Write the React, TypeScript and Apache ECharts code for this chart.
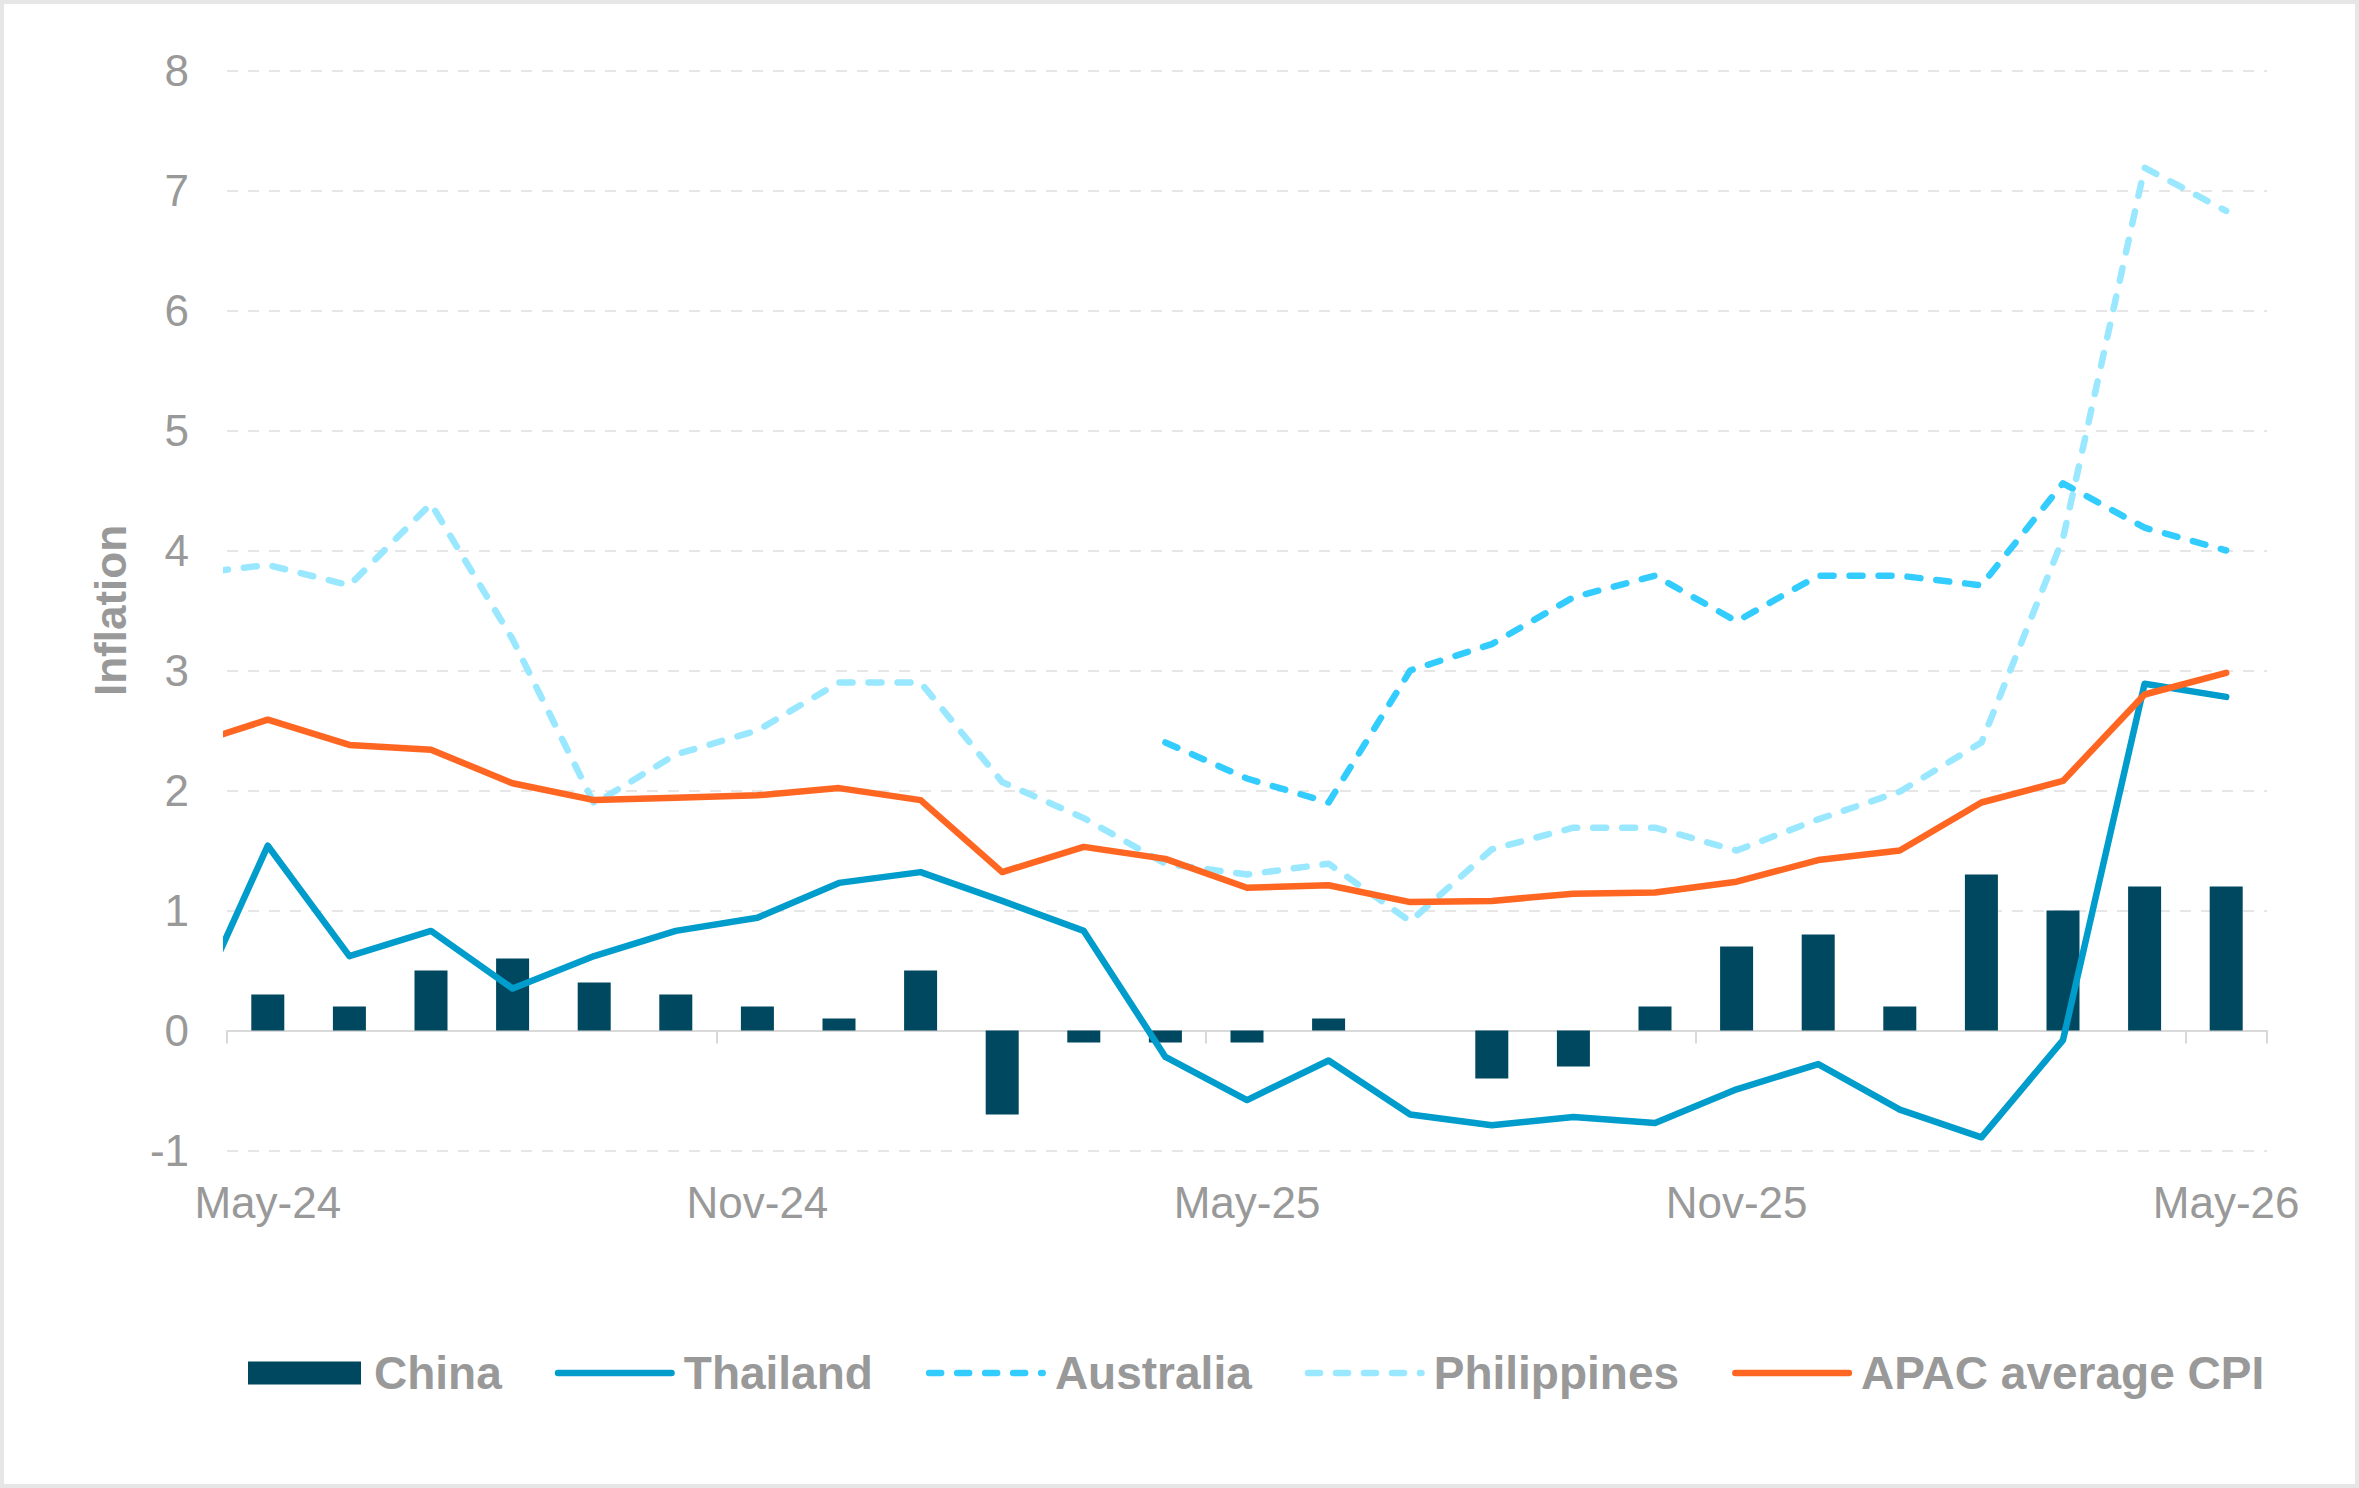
import React, { useEffect, useRef } from "react";
import * as echarts from "echarts";

// Monthly categories shown on the axis
const months = [
  "May-24", "Jun-24", "Jul-24", "Aug-24", "Sep-24", "Oct-24", "Nov-24", "Dec-24",
  "Jan-25", "Feb-25", "Mar-25", "Apr-25", "May-25", "Jun-25", "Jul-25", "Aug-25",
  "Sep-25", "Oct-25", "Nov-25", "Dec-25", "Jan-26", "Feb-26", "Mar-26", "Apr-26", "May-26",
];

// China (bars), May-24 .. May-26
const china = [0.3, 0.2, 0.5, 0.6, 0.4, 0.3, 0.2, 0.1, 0.5, -0.7, -0.1, -0.1, -0.1, 0.1, 0, -0.4, -0.3, 0.2, 0.7, 0.8, 0.2, 1.3, 1.0, 1.2, 1.2];

// Line series start one month earlier (Apr-24), which is cut at the plot edge
const thailand = [0.04, 1.54, 0.62, 0.83, 0.35, 0.62, 0.83, 0.94, 1.23, 1.32, 1.08, 0.83, -0.22, -0.58, -0.25, -0.7, -0.79, -0.72, -0.77, -0.49, -0.28, -0.66, -0.89, -0.08, 2.89, 2.78];
const australia = [null, null, null, null, null, null, null, null, null, null, null, null, 2.4, 2.1, 1.9, 3.0, 3.22, 3.61, 3.79, 3.41, 3.79, 3.79, 3.71, 4.56, 4.19, 4.0];
const philippines = [3.8, 3.88, 3.71, 4.39, 3.26, 1.89, 2.3, 2.5, 2.9, 2.9, 2.07, 1.77, 1.39, 1.3, 1.39, 0.91, 1.51, 1.69, 1.69, 1.5, 1.76, 1.99, 2.4, 4.1, 7.19, 6.83];
const apac = [2.37, 2.59, 2.38, 2.34, 2.06, 1.92, 1.94, 1.96, 2.02, 1.92, 1.32, 1.53, 1.43, 1.19, 1.21, 1.07, 1.08, 1.14, 1.15, 1.24, 1.42, 1.5, 1.9, 2.08, 2.8, 2.98];

const yTicks = { min: -1, max: 8, interval: 1 };

const FONT = "'Liberation Sans', Arial, sans-serif";
const GRAY = "#999999";

const toXY = (arr: (number | null)[]) =>
  arr
    .map((v, i) => [i - 1, v] as [number, number | null])
    .filter((p) => p[1] !== null);

// legend icon geometry (IW x IH box)
const IW = 120;
const IH = 23;
const pill = (x0: number, x1: number, yc: number, h: number) => {
  const r = h / 2;
  if (x1 - x0 < h) x1 = x0 + h;
  return `M${x0 + r},${yc - r} L${x1 - r},${yc - r} A${r},${r} 0 0 1 ${x1 - r},${yc + r} L${x0 + r},${yc + r} A${r},${r} 0 0 1 ${x0 + r},${yc - r} Z`;
};
const anchor = `path://M0,0 M${IW},${IH} `;
const rectIcon = () => anchor + `M3,0 L116,0 L116,${IH} L3,${IH} Z`;
const solidIcon = () => anchor + pill(0, IW, IH / 2, 6.5);
const dashIcon = () => {
  let d = anchor;
  for (let s = 0; s < IW - 3; s += 28) {
    d += pill(s, Math.min(s + 18.5, IW), IH / 2, 6.5) + " ";
  }
  return d;
};

export default function App() {
  const ref = useRef<HTMLDivElement>(null);

  useEffect(() => {
    if (!ref.current) return;
    const chart = echarts.init(ref.current, undefined, { renderer: "svg" });

    const lineBase = (name: string, data: (number | null)[], color: string, dashed: boolean) => ({
      name,
      type: "line",
      xAxisIndex: 2,
      data: toXY(data),
      symbol: "none",
      clip: true,
      itemStyle: { color },
      lineStyle: {
        color,
        width: 6.5,
        cap: "round",
        join: "round",
        type: dashed ? [13, 16] : "solid",
      },
    });

    chart.setOption({
      animation: false,
      backgroundColor: "#ffffff",
      textStyle: { fontFamily: FONT },
      grid: { left: 227, right: 92, top: 70.5, bottom: 337.5, containLabel: false },
      graphic: [
        {
          type: "rect",
          shape: { x: 2, y: 2, width: 2355, height: 1484 },
          style: { fill: "none", stroke: "#E6E6E6", lineWidth: 4 },
          silent: true,
        },
      ],
      legend: {
        left: 240,
        top: 1345,
        itemWidth: IW,
        itemHeight: IH,
        itemGap: 53,
        itemStyle: { borderWidth: 0 },
        data: [
          { name: "China", icon: rectIcon() },
          { name: "Thailand", icon: solidIcon() },
          { name: "Australia", icon: dashIcon() },
          { name: "Philippines", icon: dashIcon() },
          { name: "APAC average CPI", icon: solidIcon() },
        ],
        textStyle: {
          color: GRAY,
          fontSize: 46,
          fontWeight: "bold",
          fontFamily: FONT,
          padding: [0, 0, 0, 4],
        },
      },
      xAxis: [
        {
          type: "category",
          data: months,
          boundaryGap: true,
          position: "bottom",
          axisLine: { show: true, onZero: true, lineStyle: { color: "#D9D9D9", width: 2 } },
          axisTick: { show: true, interval: 5, length: 13, lineStyle: { color: "#D9D9D9", width: 2 } },
          axisLabel: { show: false },
          splitLine: { show: false },
        },
        {
          type: "category",
          data: months,
          boundaryGap: true,
          position: "bottom",
          axisLine: { show: false, onZero: false },
          axisTick: { show: false },
          axisLabel: { interval: 5, color: GRAY, fontSize: 44, margin: 30, fontFamily: FONT },
          splitLine: { show: false },
        },
        {
          type: "value",
          min: -0.5,
          max: 24.5,
          show: false,
        },
      ],
      yAxis: {
        type: "value",
        min: yTicks.min,
        max: yTicks.max,
        interval: yTicks.interval,
        name: "Inflation",
        nameLocation: "middle",
        nameGap: 95,
        nameTextStyle: { color: GRAY, fontSize: 44, fontWeight: "bold", fontFamily: FONT },
        axisLine: { show: false },
        axisTick: { show: false },
        axisLabel: { color: GRAY, fontSize: 44, margin: 38, fontFamily: FONT },
        splitLine: { show: true, lineStyle: { color: "#E6E6E6", width: 2, type: [11, 10] } },
      },
      series: [
        {
          name: "China",
          type: "bar",
          xAxisIndex: 0,
          data: china,
          barWidth: 33,
          itemStyle: { color: "#00485F" },
        },
        lineBase("Thailand", thailand, "#009CCB", false),
        lineBase("Australia", australia, "#33CCFF", true),
        lineBase("Philippines", philippines, "#99E8FF", true),
        lineBase("APAC average CPI", apac, "#FF6622", false),
      ],
    });

    return () => chart.dispose();
  }, []);

  return (
    <div
      ref={ref}
      style={{ position: "absolute", left: 0, top: 0, width: 2359, height: 1488 }}
    />
  );
}
